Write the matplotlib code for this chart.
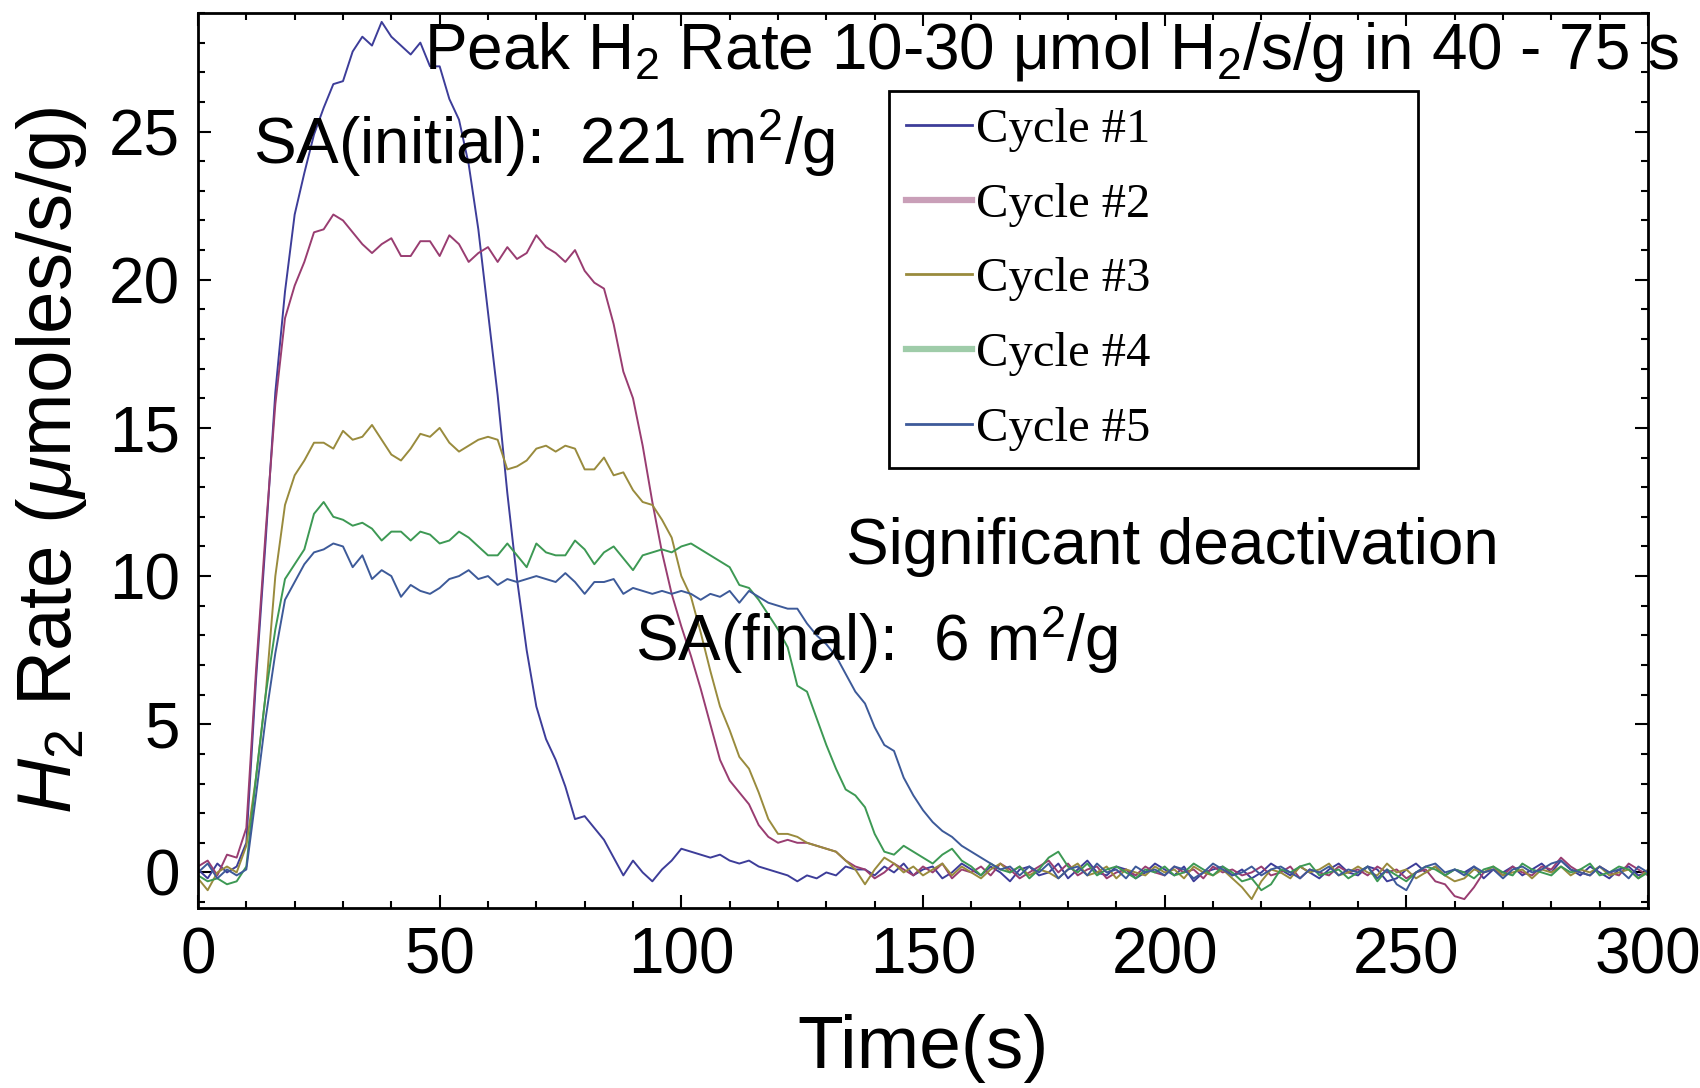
import numpy as np
import matplotlib
matplotlib.use('Agg')
import matplotlib.pyplot as plt
from matplotlib.ticker import MultipleLocator

plt.rcParams['font.family'] = ['Liberation Sans', 'DejaVu Sans']
plt.rcParams['mathtext.fontset'] = 'custom'
plt.rcParams['mathtext.rm'] = 'Liberation Sans'
plt.rcParams['mathtext.it'] = 'Liberation Sans:italic'
plt.rcParams['mathtext.bf'] = 'Liberation Sans:bold'

# time axis, one reading every 2 s
time_s = np.arange(0, 301, 2)

# H2 rate (umol/s/g), rows of 20 s
cycle_1 = [0.1, -0.2, 0.3, 0.0, 0.2, 1.0, 6.5, 11.2, 16.2, 19.6,
           22.2, 23.6, 24.9, 25.8, 26.6, 26.7, 27.7, 28.2, 27.9, 28.7,
           28.2, 27.9, 27.6, 28.0, 27.2, 27.2, 26.1, 25.4, 23.9, 21.7,
           18.9, 16.1, 12.8, 9.9, 7.5, 5.6, 4.5, 3.8, 2.9, 1.8,
           1.9, 1.5, 1.1, 0.5, -0.1, 0.4, 0.0, -0.3, 0.1, 0.4,
           0.8, 0.7, 0.6, 0.5, 0.6, 0.4, 0.3, 0.4, 0.2, 0.1,
           0.0, -0.1, -0.3, -0.1, -0.2, 0.0, -0.1, 0.2, 0.1, 0.1,
           -0.1, 0.2, 0.0, 0.3, -0.1, 0.1, 0.2, -0.2, 0.0, 0.3,
           0.1, -0.1, 0.2, 0.0, -0.3, 0.1, 0.2, -0.1, 0.0, 0.3,
           -0.2, 0.1, 0.4, 0.0, -0.1, 0.2, 0.1, -0.2, 0.0, 0.3,
           0.1, -0.1, 0.2, -0.3, 0.0, 0.1, 0.2, -0.1, 0.1, -0.2,
           0.0, 0.3, 0.1, -0.1, 0.2, 0.0, -0.2, 0.1, 0.3, 0.0,
           -0.1, 0.2, 0.1, -0.3, -0.2, 0.1, 0.3, 0.0, 0.2, -0.1,
           0.1, 0.0, 0.2, -0.2, 0.1, 0.0, 0.2, -0.1, 0.1, 0.3,
           0.0, 0.4, 0.1, -0.1, 0.2, 0.0, -0.2, 0.1, 0.2, -0.1,
           0.0]

cycle_2 = [0.2, 0.4, -0.1, 0.6, 0.5, 1.5, 6.8, 11.5, 15.8, 18.7,
           19.8, 20.6, 21.6, 21.7, 22.2, 22.0, 21.6, 21.2, 20.9, 21.2,
           21.4, 20.8, 20.8, 21.3, 21.3, 20.8, 21.5, 21.2, 20.6, 20.9,
           21.1, 20.6, 21.1, 20.7, 20.9, 21.5, 21.1, 20.9, 20.6, 21.0,
           20.3, 19.9, 19.7, 18.5, 16.9, 16.0, 14.4, 12.5, 10.8, 9.4,
           8.3, 7.3, 6.2, 5.0, 3.8, 3.1, 2.7, 2.3, 1.6, 1.2,
           1.0, 1.1, 1.0, 1.0, 0.9, 0.8, 0.7, 0.4, 0.2, 0.1,
           -0.2, 0.0, 0.3, 0.1, -0.1, 0.2, 0.0, 0.3, -0.2, 0.1,
           0.0, 0.2, -0.1, 0.3, 0.1, -0.2, 0.0, 0.2, 0.4, 0.0,
           0.3, -0.1, 0.1, 0.2, -0.2, 0.0, 0.1, -0.1, 0.2, 0.0,
           -0.1, 0.2, 0.0, 0.1, -0.2, 0.2, 0.0, 0.1, -0.1, 0.0,
           0.2, -0.1, 0.0, 0.2, -0.2, 0.1, 0.0, -0.1, 0.2, 0.0,
           0.1, -0.1, 0.2, 0.0, 0.1, -0.2, 0.0, 0.1, -0.3, -0.4,
           -0.8, -0.9, -0.5, 0.0, 0.1, -0.1, 0.2, 0.0, -0.1, 0.2,
           0.1, 0.5, 0.2, 0.0, -0.1, 0.2, 0.0, -0.1, 0.3, 0.1,
           -0.1]

cycle_3 = [-0.2, -0.6, 0.0, 0.2, 0.0, 0.9, 3.2, 6.0, 10.0, 12.4,
           13.4, 13.9, 14.5, 14.5, 14.3, 14.9, 14.6, 14.7, 15.1, 14.6,
           14.1, 13.9, 14.3, 14.8, 14.7, 15.0, 14.5, 14.2, 14.4, 14.6,
           14.7, 14.6, 13.6, 13.7, 13.9, 14.3, 14.4, 14.2, 14.4, 14.3,
           13.6, 13.6, 14.0, 13.4, 13.5, 12.9, 12.5, 12.4, 11.9, 11.3,
           10.0, 9.3, 8.1, 6.8, 5.6, 4.8, 3.9, 3.5, 2.7, 1.8,
           1.3, 1.3, 1.2, 1.0, 0.9, 0.8, 0.7, 0.4, 0.1, -0.4,
           0.1, 0.5, 0.3, 0.0, 0.2, -0.1, 0.1, 0.3, -0.1, 0.2,
           0.0, -0.2, 0.1, 0.3, 0.0, 0.2, -0.1, 0.1, 0.0, -0.2,
           0.1, 0.3, -0.1, 0.0, 0.2, -0.2, 0.1, 0.0, -0.1, 0.2,
           0.0, 0.1, -0.2, 0.2, 0.0, -0.1, 0.1, -0.2, -0.5, -0.9,
           -0.3, 0.1, 0.0, -0.2, 0.2, 0.0, 0.1, 0.3, -0.1, 0.0,
           0.2, 0.0, -0.1, 0.3, 0.0, 0.1, -0.2, 0.0, 0.2, -0.1,
           -0.3, -0.2, 0.1, 0.0, 0.2, -0.1, 0.0, 0.1, -0.2, 0.1,
           0.0, 0.2, -0.1, 0.1, 0.0, 0.2, -0.1, 0.0, 0.1, -0.2,
           0.1]

cycle_4 = [-0.1, -0.3, -0.2, -0.4, -0.3, 0.2, 3.2, 6.0, 8.2, 9.9,
           10.4, 10.9, 12.1, 12.5, 12.0, 11.9, 11.7, 11.8, 11.6, 11.2,
           11.5, 11.5, 11.2, 11.5, 11.4, 11.1, 11.2, 11.5, 11.3, 11.0,
           10.7, 10.7, 11.1, 10.7, 10.3, 11.1, 10.8, 10.7, 10.7, 11.2,
           10.9, 10.4, 10.8, 11.0, 10.6, 10.2, 10.7, 10.8, 10.9, 10.8,
           11.0, 11.1, 10.9, 10.7, 10.5, 10.3, 9.7, 9.6, 9.2, 8.7,
           8.2, 7.6, 6.3, 6.1, 5.2, 4.3, 3.5, 2.8, 2.6, 2.2,
           1.3, 0.7, 0.6, 0.9, 0.7, 0.5, 0.3, 0.6, 0.8, 0.4,
           0.2, -0.1, 0.3, 0.1, 0.0, 0.2, -0.2, 0.1, 0.5, 0.7,
           0.2, 0.0, 0.3, -0.1, 0.1, 0.2, 0.0, -0.2, 0.1, 0.0,
           0.2, -0.1, 0.0, 0.3, 0.1, -0.1, 0.2, 0.0, -0.3, -0.2,
           -0.6, -0.4, 0.1, 0.0, 0.2, 0.3, -0.1, 0.0, 0.1, -0.2,
           0.0, 0.2, -0.3, 0.1, -0.1, -0.3, 0.0, 0.2, 0.1, -0.1,
           0.1, 0.0, -0.2, 0.1, 0.2, 0.0, -0.1, 0.3, 0.1, 0.0,
           -0.1, 0.2, 0.0, 0.1, 0.3, -0.1, 0.0, 0.2, 0.1, -0.2,
           0.0]

cycle_5 = [0.0, 0.3, -0.2, 0.1, -0.1, 0.1, 2.6, 5.2, 7.4, 9.2,
           9.8, 10.4, 10.8, 10.9, 11.1, 11.0, 10.3, 10.7, 9.9, 10.2,
           10.0, 9.3, 9.7, 9.5, 9.4, 9.6, 9.9, 10.0, 10.2, 9.9,
           10.0, 9.7, 9.9, 9.8, 9.9, 10.0, 9.9, 9.8, 10.1, 9.8,
           9.4, 9.8, 9.8, 9.9, 9.4, 9.6, 9.5, 9.4, 9.5, 9.4,
           9.5, 9.4, 9.2, 9.4, 9.3, 9.5, 9.1, 9.5, 9.3, 9.1,
           9.0, 8.9, 8.9, 8.4, 8.0, 7.7, 7.3, 6.7, 6.1, 5.7,
           4.9, 4.3, 4.1, 3.2, 2.6, 2.1, 1.7, 1.4, 1.2, 0.9,
           0.7, 0.5, 0.3, 0.1, 0.2, -0.1, 0.2, 0.0, 0.3, -0.2,
           0.1, 0.2, -0.1, 0.3, 0.0, 0.1, -0.2, 0.2, 0.0, 0.1,
           -0.1, 0.2, 0.1, -0.2, 0.0, 0.3, 0.1, -0.1, 0.0, 0.2,
           -0.1, 0.1, 0.2, 0.0, -0.2, 0.1, 0.0, 0.2, -0.1, 0.1,
           0.0, 0.2, -0.2, 0.1, -0.4, -0.6, 0.0, 0.2, 0.3, 0.0,
           0.1, -0.1, 0.2, 0.0, 0.1, -0.2, 0.1, 0.2, 0.0, 0.1,
           0.3, 0.4, 0.1, 0.0, -0.1, 0.2, 0.0, 0.1, -0.2, 0.2,
           0.0]

labels = ['Cycle #1', 'Cycle #2', 'Cycle #3', 'Cycle #4', 'Cycle #5']
colors = ['#3d3d99', '#993d71', '#998b3d', '#3d9954', '#3d5a99']
legend_colors = ['#3d3d99', '#c99fb8', '#998b3d', '#9fcca9', '#3d5a99']
legend_widths = [2.0, 4.5, 2.0, 4.5, 2.0]

fig = plt.figure(figsize=(17, 10.88), dpi=100)
ax = fig.add_axes([198/1700, 1-908/1088, 1450/1700, 895/1088])

for series, col, lab in zip([cycle_1, cycle_2, cycle_3, cycle_4, cycle_5], colors, labels):
    ax.plot(time_s, series, color=col, lw=1.4, label=lab)

ax.set_xlim(0, 300)
ax.set_ylim(-1.2, 29.0)
ax.xaxis.set_major_locator(MultipleLocator(50))
ax.xaxis.set_minor_locator(MultipleLocator(10))
ax.yaxis.set_major_locator(MultipleLocator(5))
ax.yaxis.set_minor_locator(MultipleLocator(1))
ax.tick_params(which='both', direction='in', top=True, right=True, width=1.5)
ax.tick_params(which='major', length=9.5, labelsize=46, pad=13)
ax.tick_params(which='minor', length=5)
for sp in ax.spines.values():
    sp.set_linewidth(2)

ax.set_xlabel('Time(s)', fontsize=54, labelpad=20)
ax.set_ylabel(r'$H_2$ Rate ($\mu$moles/s/g)', fontsize=55, labelpad=14)

# annotations
ax.text(306.4, 27.1, r'Peak H$_2$ Rate 10-30 μmol H$_2$/s/g in 40 - 75 s',
        fontsize=46, ha='right', va='baseline', clip_on=False)
ax.text(11.3, 23.9, r'SA(initial):  221 m$^2$/g', fontsize=46, va='baseline')
ax.text(134.0, 10.4, 'Significant deactivation', fontsize=46, va='baseline')
ax.text(90.4, 7.14, r'SA(final):  6 m$^2$/g', fontsize=46, va='baseline')

leg = ax.legend(loc='upper left', bbox_to_anchor=(0.4766, 0.4894, 0.3648, 0.4234),
                mode='expand', borderaxespad=0, fancybox=False, framealpha=1,
                edgecolor='black', handlelength=1.35, handletextpad=0.08,
                labelspacing=0.63, borderpad=0.35,
                prop={'family': 'Liberation Serif', 'size': 35})
leg.get_frame().set_linewidth(2)
for line, c, w in zip(leg.get_lines(), legend_colors, legend_widths):
    line.set_color(c)
    line.set_linewidth(w)

plt.savefig('out.png', dpi=100)
